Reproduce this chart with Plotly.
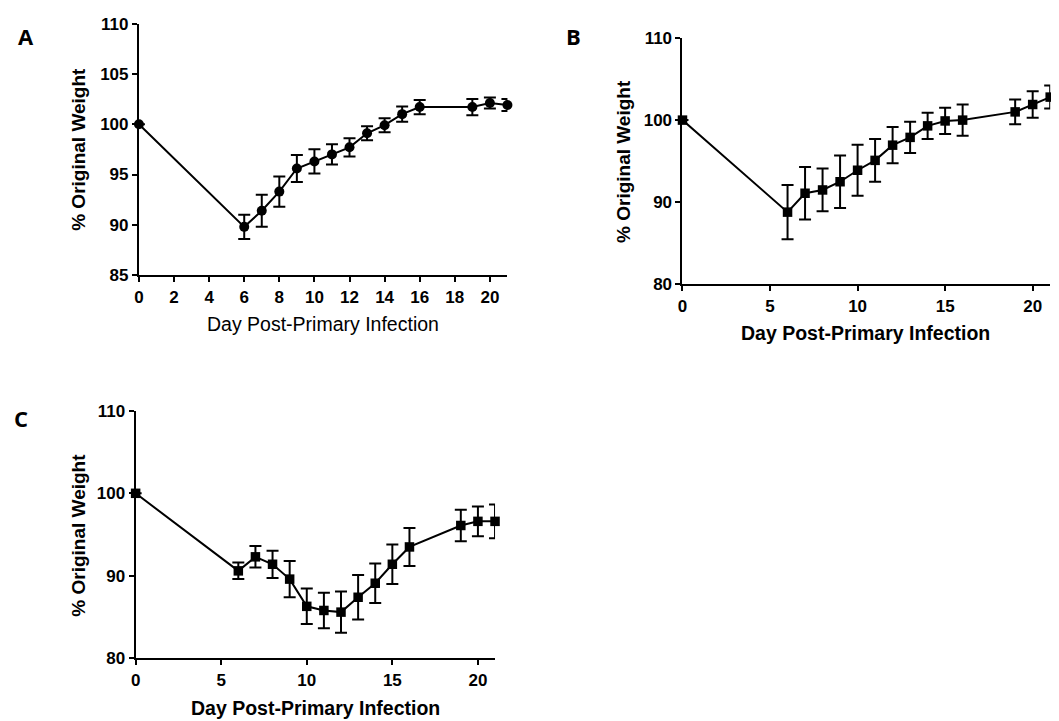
import plotly.graph_objects as go

# ---- data ----
days = [0, 6, 7, 8, 9, 10, 11, 12, 13, 14, 15, 16, 19, 20, 21]

weight_a = [100.0, 89.8, 91.4, 93.3, 95.6, 96.3, 97.0, 97.7, 99.1, 99.9, 101.0, 101.7, 101.7, 102.1, 101.9]
err_a = [0.0, 1.2, 1.6, 1.5, 1.35, 1.2, 1.0, 0.9, 0.7, 0.7, 0.75, 0.7, 0.8, 0.55, 0.6]

weight_b = [100.0, 88.8, 91.1, 91.5, 92.5, 93.9, 95.1, 96.95, 97.9, 99.3, 99.9, 100.0, 101.0, 101.9, 102.8]
err_b = [0.0, 3.3, 3.2, 2.6, 3.2, 3.1, 2.6, 2.2, 1.9, 1.6, 1.6, 1.9, 1.5, 1.6, 1.4]

weight_c = [100.0, 90.6, 92.3, 91.4, 89.6, 86.3, 85.8, 85.6, 87.4, 89.1, 91.4, 93.5, 96.1, 96.6, 96.6]
err_c = [0.0, 1.0, 1.3, 1.65, 2.2, 2.15, 2.15, 2.5, 2.7, 2.4, 2.4, 2.3, 1.9, 1.8, 2.05]

ticks_x_a = [0, 2, 4, 6, 8, 10, 12, 14, 16, 18, 20]
ticks_y_a = [85, 90, 95, 100, 105, 110]
ticks_x_bc = [0, 5, 10, 15, 20]
ticks_y_bc = [80, 90, 100, 110]

panel_labels = ["A", "B", "C"]
y_title = "% Original Weight"
x_title = "Day Post-Primary Infection"

W, H = 1059, 721
FONT = "Liberation Sans, Arial, sans-serif"

# page-offset calibration (target screen pixel -> figure pixel)
OFF_X, SC_X, OFF_Y, SC_Y = 12.4, 0.995, 16.75, 0.974


def px_x(p):
    return ((p - OFF_X) / SC_X) / W


def px_y(p):
    return 1 - ((p - OFF_Y) / SC_Y) / H


fig = go.Figure()

panels = [
    dict(ax="", y=weight_a, e=err_a, sym="circle", xd=[138.3, 506.7], yd=[23.3, 275.0],
         rng=[85, 110], tx=ticks_x_a, ty=ticks_y_a, xbold=False,
         lab=(25, 36), ytit=(78, 149), xtit=(322, 324)),
    dict(ax="2", y=weight_b, e=err_b, sym="square", xd=[681.7, 1049.3], yd=[37.7, 284.3],
         rng=[80, 110], tx=ticks_x_bc, ty=ticks_y_bc, xbold=True,
         lab=(573, 36), ytit=(622, 161), xtit=(865, 333)),
    dict(ax="3", y=weight_c, e=err_c, sym="square", xd=[135.0, 494.3], yd=[410.7, 658.3],
         rng=[80, 110], tx=ticks_x_bc, ty=ticks_y_bc, xbold=True,
         lab=(20, 418), ytit=(77, 535), xtit=(315, 708)),
]

for i, p in enumerate(panels):
    ax = p["ax"]
    fig.add_trace(go.Scatter(
        x=days, y=p["y"], mode="lines+markers",
        xaxis="x" + ax, yaxis="y" + ax,
        line=dict(color="black", width=2),
        marker=dict(symbol=p["sym"], size=10 if p["sym"] == "circle" else 9.5, color="black"),
        error_y=dict(type="data", array=p["e"], visible=True, color="black", thickness=2, width=6),
        cliponaxis=False, showlegend=False,
    ))
    axis_common = dict(
        showline=True, linecolor="black", linewidth=2, ticks="outside", ticklen=5,
        tickwidth=2, tickcolor="black", showgrid=False, zeroline=False,
        tickfont=dict(family=FONT, size=17, color="black", weight="bold"),
    )
    fig.update_layout(**{
        "xaxis" + ax: dict(
            domain=[px_x(p["xd"][0]), px_x(p["xd"][1])],
            anchor="y" + ax, range=[0, 21], tickvals=p["tx"], **axis_common),
        "yaxis" + ax: dict(
            domain=[px_y(p["yd"][1]), px_y(p["yd"][0])],
            anchor="x" + ax, range=p["rng"], tickvals=p["ty"], **axis_common),
    })
    # panel letter
    fig.add_annotation(x=px_x(p["lab"][0]), y=px_y(p["lab"][1]), xref="paper", yref="paper",
                       xanchor="center", yanchor="middle",
                       text="<b>%s</b>" % panel_labels[i], showarrow=False,
                       font=dict(family="Open Sans, sans-serif", size=22, color="black"))
    # y title
    fig.add_annotation(x=px_x(p["ytit"][0]), y=px_y(p["ytit"][1]), xref="paper", yref="paper",
                       xanchor="center", yanchor="middle",
                       text="<b>%s</b>" % y_title, textangle=-90, showarrow=False,
                       font=dict(family=FONT, size=19, color="black"))
    # x title
    fig.add_annotation(x=px_x(p["xtit"][0]), y=px_y(p["xtit"][1]), xref="paper", yref="paper",
                       xanchor="center", yanchor="middle",
                       text=("<b>%s</b>" % x_title) if p["xbold"] else x_title, showarrow=False,
                       font=dict(family=FONT, size=19.5, color="black"))

fig.update_layout(
    width=W, height=H, margin=dict(l=0, r=0, t=0, b=0),
    paper_bgcolor="white", plot_bgcolor="white",
)

fig.write_html("out.html")
